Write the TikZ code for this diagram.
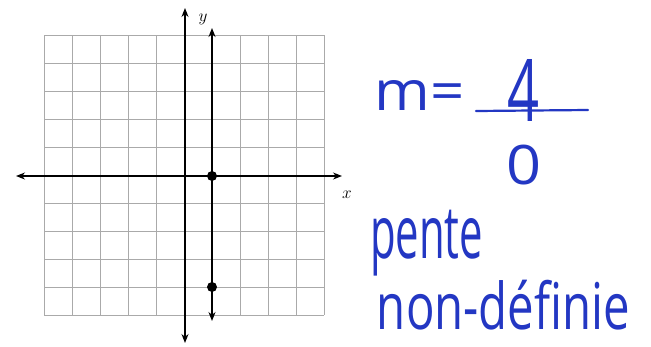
\documentclass[tikz,border=0pt]{standalone}
\usepackage{fontspec}
\newfontfamily\hwfont{Open Sans}
\usetikzlibrary{arrows.meta}
\definecolor{hwblue}{RGB}{35,55,195}
\definecolor{gridgray}{RGB}{170,170,170}
\newcommand{\hwtext}[3]{\resizebox*{#1}{#2}{\hwfont #3}}
\begin{document}
\begin{tikzpicture}[x=1pt,y=-1pt,
  gridline/.style={gridgray, line width=0.9pt},
  axisline/.style={black, line width=1.3pt, {Stealth[length=9pt,width=7pt]}-{Stealth[length=9pt,width=7pt]}},
  vline/.style={black, line width=2pt, {Stealth[length=9pt,width=7pt]}-{Stealth[length=9pt,width=7pt]}},
  dot/.style={circle, fill=black, minimum size=10pt, inner sep=0pt},
  axlabel/.style={inner sep=0pt, font=\fontsize{19}{19}\selectfont},
  hw/.style={inner sep=0pt, text=hwblue},
  bar/.style={hwblue, line width=2.2pt, line cap=round}]
\useasboundingbox (0,0) rectangle (651,346);
\fill[white] (0,0) rectangle (651,346);
% grid
\foreach \i in {0,...,10} {
  \draw[gridline] ({44+28*\i},35) -- ({44+28*\i},315);
  \draw[gridline] (44,{35+28*\i}) -- (324,{35+28*\i});
}
% axes
\coordinate (xl) at (16,176);
\coordinate (xr) at (342,176);
\coordinate (yt) at (185,8);
\coordinate (yb) at (185,343);
\draw[axisline] (xl) -- (xr);
\draw[axisline] (yt) -- (yb);
\node[axlabel] (ylab) at (203,19) {$y$};
\node[axlabel] (xlab) at (347,195) {$x$};
% vertical line x = 1
\coordinate (lt) at (212,28);
\coordinate (lb) at (212,321);
\draw[vline] (lt) -- (lb);
\node[dot] (p1) at (212,176) {};
\node[dot] (p2) at (212,287) {};
% handwriting
\node[hw] (meq) at (420,95) {\hwtext{90pt}{30pt}{m=}};
\node[hw] (num) at (524,90) {\hwtext{32pt}{62pt}{4}};
\coordinate (bl) at (476,111);
\coordinate (br) at (588,110);
\draw[bar] (bl) -- (br);
\node[hw] (den) at (524.5,165) {\hwtext{35pt}{40pt}{0}};
\node[hw] (pente) at (426.5,243) {\hwtext{113pt}{66pt}{pente}};
\node[hw] (nondef) at (503.5,305) {\hwtext{253pt}{50pt}{non-définie}};
\end{tikzpicture}
\end{document}
